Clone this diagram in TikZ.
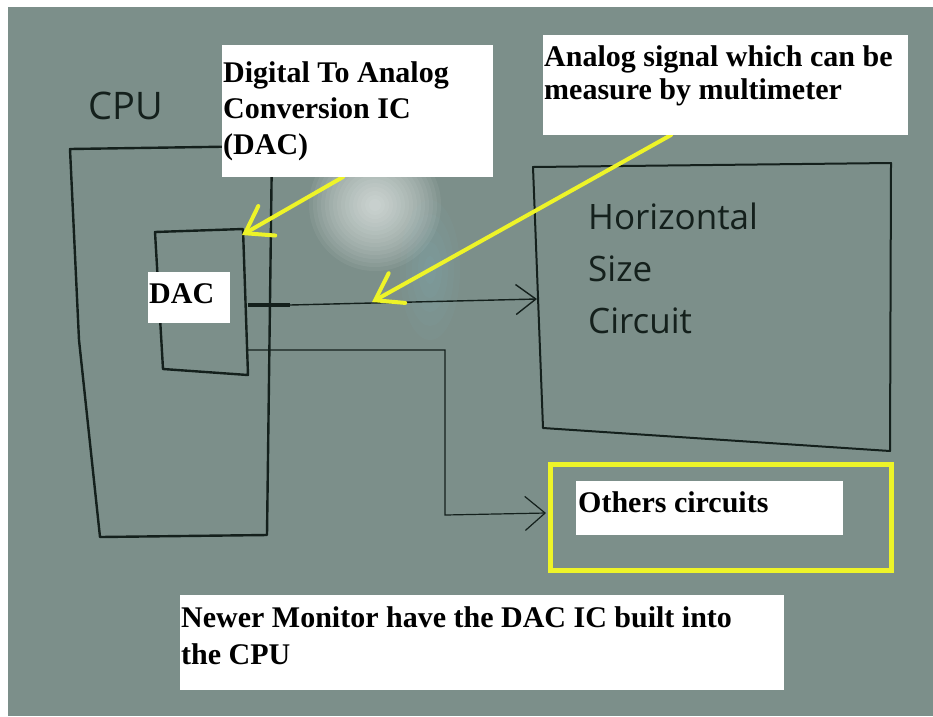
\documentclass[tikz,border=0pt]{standalone}
\usepackage{fontspec}
\setmainfont{Liberation Serif}
\newfontfamily\handfont{Open Sans}
\usetikzlibrary{arrows.meta, positioning}
\definecolor{boardgray}{RGB}{124,143,138}
\definecolor{markerblack}{RGB}{20,32,28}
\definecolor{hiyellow}{RGB}{238,244,40}

\begin{document}
\begin{tikzpicture}[
    x=1pt, y=-1pt,
    sketch/.style={draw=markerblack, line width=2.4pt, line join=round},
    wire/.style={draw=markerblack, line width=1.4pt},
    notebox/.style={fill=white, inner sep=0pt, anchor=north west},
    notetext/.style={font=\bfseries\fontsize{30}{#1}\selectfont, align=left,
                     inner sep=0pt, anchor=north west},
    notetext/.default=36,
    handtext/.style={font=\handfont\fontsize{#1}{52}\selectfont, text=markerblack,
                     align=left, inner sep=0pt, anchor=north west},
    handtext/.default=35,
    pointer/.style={draw=hiyellow, line width=4pt, line cap=round,
                    -{Straight Barb[length=25pt, width=34pt, line cap=round]}}
]

% whiteboard
\fill[white] (0,0) rectangle (933,716);
\fill[boardgray] (8,7) rectangle (933,716);
\useasboundingbox (0,0) rectangle (933,716);

% glare on the board
\foreach \r in {66,62,...,6}
    \fill[white, opacity=0.06] (375,205) circle (\r pt);
\foreach \r in {1,...,5}
    \fill[white!60!cyan, opacity=0.03] (430,270) ellipse (\r*6pt and \r*14pt);

% CPU block
\draw[sketch] (272,146) -- (70,149) -- (79,340) -- (100,537) -- (267,535) -- cycle;
\node[handtext=38] (cpulbl) at (88,92) {CPU};

% DAC chip
\draw[sketch] (155,232) -- (243,229) -- (248,375) -- (163,369) -- cycle;

% Horizontal size circuit
\draw[sketch, line width=2pt] (533,167) -- (891,163) -- (890,451) -- (543,428) -- cycle;
\node[handtext] (hsizelbl) at (588,203) {Horizontal\\Size\\Circuit};

% Others circuits
\node[draw=hiyellow, line width=5pt, inner sep=0pt, anchor=north west,
      minimum width=341pt, minimum height=106pt] (others) at (548,462) {};

% wiring
\coordinate (dacout) at (248,305);
\coordinate (stubend) at (290,305);
\coordinate (hsin) at (537,299);
\coordinate (dacout2) at (248,350);
\coordinate (bendtop) at (445,350);
\coordinate (bendlow) at (445,515);
\coordinate (othin) at (546,513);

\draw[markerblack, line width=3.5pt] (dacout) -- (stubend);
\draw[wire, -{Straight Barb[length=20pt, width=30pt]}] (stubend) -- (hsin);
\draw[wire, line width=1.2pt, -{Straight Barb[length=20pt, width=34pt]}]
    (dacout2) -- (bendtop) -- (bendlow) -- (othin);

% yellow pointers
\coordinate (dactip) at (242,235);
\coordinate (dacfrom) at (343,177);
\coordinate (sigtip) at (372,302);
\coordinate (sigfrom) at (671,135);
\draw[pointer] (dacfrom) -- (dactip);
\draw[pointer] (sigfrom) -- (sigtip);

% notes
\node[notebox, minimum width=271pt, minimum height=132pt] (dacbox) at (222,45) {};
\node[notetext] (dacnote) at (223,61) {Digital To Analog\\Conversion IC\\(DAC)};

\node[notebox, minimum width=365pt, minimum height=100pt] (sigbox) at (543,35) {};
\node[notetext=33] (signote) at (544,45) {Analog signal which can be\\measure by multimeter};

\node[notebox, minimum width=82pt, minimum height=51pt] (chipbox) at (148,272) {};
\node[notetext] (chipnote) at (149,283) {DAC};

\node[notebox, minimum width=267pt, minimum height=54pt] (othbox) at (576,481) {};
\node[notetext] (othnote) at (578,491) {Others circuits};

\node[notebox, minimum width=604pt, minimum height=95pt] (newbox) at (180,595) {};
\node[notetext=37] (newnote) at (181,606) {Newer Monitor have the DAC IC built into\\the CPU};

\end{tikzpicture}
\end{document}
